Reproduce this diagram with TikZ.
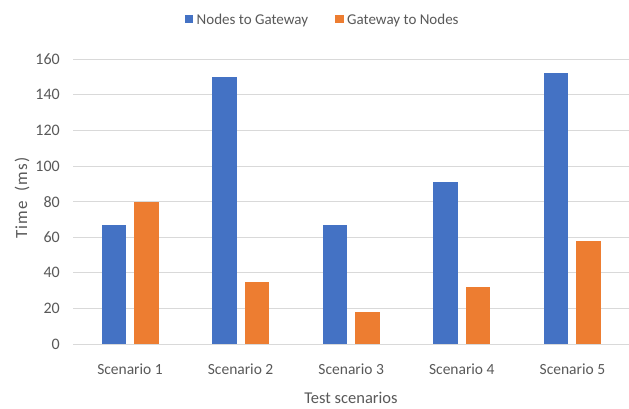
\documentclass[tikz,border=0pt]{standalone}
\usepackage{fontspec}
\setmainfont{Carlito}
\definecolor{nblue}{HTML}{4472C4}
\definecolor{norange}{HTML}{ED7D31}
\definecolor{gridc}{HTML}{D9D9D9}
\definecolor{txt}{HTML}{595959}
\begin{document}
\begin{tikzpicture}[x=1pt,y=-1pt,
  gridline/.style={draw=gridc, line width=1pt},
  ticklab/.style={anchor=east, text=txt, font=\fontsize{16}{19}\selectfont, inner sep=0pt},
  catlab/.style={text=txt, font=\fontsize{15.5}{18}\selectfont, inner sep=0pt},
  legsq/.style={minimum size=8.5pt, inner sep=0pt},
  legtxt/.style={anchor=base west, text=txt, font=\fontsize{15}{18}\selectfont, inner sep=0pt},
]
\useasboundingbox[fill=white] (0,0) rectangle (629,409);
% grid and tick labels
\foreach \v in {0,20,...,160} {
  \draw[gridline] (73,{344-\v*1.78}) -- (629,{344-\v*1.78});
  \node[ticklab] (t\v) at (60,{344-\v*1.78}) {\v};
}
% bars
\foreach \i/\a/\b in {1/67/80, 2/150/35, 3/67/18, 4/91/32, 5/152/58} {
  \pgfmathsetmacro\c{130+110.6*(\i-1)}
  \fill[nblue] ({\c-28.5},344) rectangle ({\c-4},{344-\a*1.78});
  \fill[norange] ({\c+4},344) rectangle ({\c+28.5},{344-\b*1.78});
  \node[catlab] (s\i) at (\c,369) {Scenario \i};
}
% axis titles
\node[text=txt, inner sep=0pt, font=\fontsize{16.5}{20}\selectfont] (xt) at (351,398) {Test scenarios};
\node[text=txt, inner sep=0pt, rotate=90, font=\fontsize{17}{20}\selectfont\addfontfeatures{LetterSpace=6}] (yt) at (22,198) {Time\ \ (ms)};
% legend
\node[legsq, fill=nblue] (lb) at (189,18.8) {};
\node[legtxt] (lbt) at (196.5,24.5) {Nodes to Gateway};
\node[legsq, fill=norange] (lo) at (339.5,18.8) {};
\node[legtxt] (lot) at (347,24.5) {Gateway to Nodes};
\end{tikzpicture}
\end{document}
